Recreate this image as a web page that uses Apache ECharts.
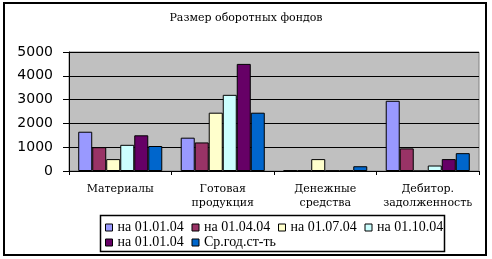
<!DOCTYPE html>
<html><head><meta charset="utf-8">
<script src="https://cdn.jsdelivr.net/npm/echarts@6/dist/echarts.min.js"></script>
<style>html,body{margin:0;padding:0;background:#fff}#c{width:492px;height:259px}</style>
</head><body><div id="c"></div>
<script>
const titleText = 'Размер оборотных фондов';
const categories = ['Материалы', 'Готовая\nпродукция', 'Денежные\nсредства', 'Дебитор.\nзадолженность'];
const seriesLabels = ['на 01.01.04', 'на 01.04.04', 'на 01.07.04', 'на 01.10.04', 'на 01.01.04', 'Ср.год.ст-ть'];
const seriesColors = ['#9999FF', '#993366', '#FFFFCC', '#CCFFFF', '#660066', '#0066CC'];
const s1 = [1650, 1400, 30, 2950];
const s2 = [1000, 1200, 30, 950];
const s3 = [500, 2450, 500, 0];
const s4 = [1100, 3200, 20, 230];
const s5 = [1500, 4500, 20, 500];
const s6 = [1050, 2450, 200, 750];
const seriesValues = [s1, s2, s3, s4, s5, s6];
const yTicks = { min: 0, max: 5000, interval: 1000 };

const keys = seriesLabels.map((l, i) => 'k' + i);
const chart = echarts.init(document.getElementById('c'), null, { renderer: 'canvas' });
chart.setOption({
  animation: false,
  backgroundColor: '#fff',
  title: {
    text: titleText, left: 'center', top: 13, padding: 0,
    textStyle: { fontFamily: 'DejaVu Serif', fontSize: 11, fontWeight: 'normal', color: '#000' }
  },
  graphic: [
    { type: 'rect', shape: { x: 4, y: 3, width: 482, height: 252 }, style: { fill: 'none', stroke: '#000', lineWidth: 2 }, z: 100 },
    { type: 'rect', shape: { x: 100.5, y: 215.5, width: 344, height: 36 }, style: { fill: 'none', stroke: '#000', lineWidth: 1.5 }, z: 100 }
  ],
  legend: {
    left: 100, top: 220, width: 350, padding: [0, 0, 0, 5],
    itemGap: 0, itemWidth: 7, itemHeight: 7, icon: 'rect',
    itemStyle: { borderColor: '#000', borderWidth: 1 },
    data: keys,
    formatter: name => seriesLabels[keys.indexOf(name)],
    textStyle: { fontFamily: 'Liberation Serif', fontSize: 14, color: '#000', width: 74, lineHeight: 15 }
  },
  grid: {
    left: 69, right: 13, top: 52, bottom: 88, show: true,
    backgroundColor: '#C0C0C0', borderColor: '#808080', borderWidth: 1
  },
  xAxis: {
    type: 'category', data: categories,
    axisLine: { lineStyle: { color: '#000', width: 1 } },
    axisTick: { show: true, length: 4, lineStyle: { color: '#000' } },
    axisLabel: { interval: 0, margin: 11, align: 'center', fontFamily: 'DejaVu Serif', fontSize: 11, color: '#000', lineHeight: 14 }
  },
  yAxis: {
    type: 'value', min: yTicks.min, max: yTicks.max, interval: yTicks.interval,
    axisLine: { show: true, lineStyle: { color: '#000', width: 1 } },
    axisTick: { show: true, length: 6, lineStyle: { color: '#000' } },
    splitLine: { lineStyle: { color: '#000', width: 1 } },
    axisLabel: { margin: 16, fontFamily: 'DejaVu Sans', fontSize: 14, color: '#000', formatter: v => String(v) }
  },
  series: seriesValues.map((vals, i) => ({
    name: keys[i], type: 'bar', data: vals,
    barGap: '0%', barCategoryGap: '18%',
    itemStyle: { color: seriesColors[i], borderColor: '#000', borderWidth: 1 }
  }))
});
</script></body></html>
